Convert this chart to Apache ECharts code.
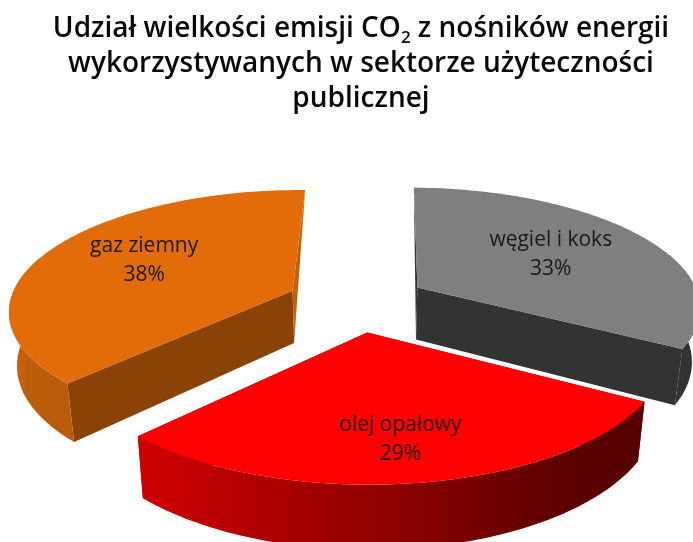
<!DOCTYPE html>
<html>
<head>
<meta charset="utf-8">
<script src="https://cdn.jsdelivr.net/npm/echarts@6/dist/echarts.min.js"></script>
<style>html,body{margin:0;padding:0;background:#fff}#c{width:693px;height:542px}</style>
</head>
<body>
<div id="c"></div>
<script>
var categories = ['węgiel i koks', 'olej opałowy', 'gaz ziemny'];
var shares = [33, 29, 38];

// 3D projection of the pie plane (unit radius)
var CX = 357, CY = 302, AX = 283, BY = 119, PERSP = 0.15;
var ROT = 1 * Math.PI / 180;
var EXPLODE = 0.25, WALL = 53, WALL_SHRINK = 0.977;
var OUTER_VISIBLE_COS = 0.3;
var LABEL_R = [0.6, 0.735, 0.63];
var LABEL_SHIFT = [[-3, 0], [-2, 2], [6, -3]];
var FONT = '"Open Sans", Lato, sans-serif';

function grad(stops) {
  return new echarts.graphic.LinearGradient(0, 0, 1, 0, stops.map(function (s) {
    return { offset: s[0], color: s[1] };
  }));
}
var STYLES = [
  { top: '#7f7f7f', startWall: '#333333', endWall: '#333333', outer: function () { return '#333333'; } },
  { top: '#ff0000', startWall: '#8a0000', endWall: '#8a0000', outer: function () {
      return grad([[0, '#cf0000'], [0.45, '#940000'], [0.85, '#5c0000'], [1, '#560000']]); } },
  { top: '#e26b0a', startWall: '#8a4307', endWall: '#c2630c', outer: function () {
      return grad([[0, '#cc680c'], [0.3, '#bd5e0a'], [1, '#b85b09']]); } }
];

var total = shares.reduce(function (a, b) { return a + b; }, 0);

function project(X, Y, bottom) {
  var w = 1 + PERSP * Y;
  var k = bottom ? WALL_SHRINK : 1;
  return [CX + k * AX * X / w, CY - BY * Y / w + (bottom ? WALL / w : 0)];
}

function edgeWall(rimTop, rimBottom, apexT, apexB, isFar, fill) {
  // An edge running away from the viewer only shows as a sliver ending at its far corner.
  var pts = isFar ? [rimTop, apexT, apexB] : [rimTop, apexT, apexB, rimBottom];
  return { type: 'polygon', shape: { points: pts }, style: { fill: fill } };
}

function renderItem(params, api) {
  var i = params.dataIndex;
  var before = 0;
  for (var n = 0; n < i; n++) before += shares[n];
  var a0 = ROT + before / total * 2 * Math.PI;
  var a1 = ROT + (before + api.value(0)) / total * 2 * Math.PI;
  var mid = (a0 + a1) / 2;
  var ox = EXPLODE * Math.sin(mid), oy = EXPLODE * Math.cos(mid);
  var st = STYLES[i];

  var steps = 96, topArc = [], outerTop = [], outerBot = [];
  for (var s = 0; s <= steps; s++) {
    var a = a0 + (a1 - a0) * s / steps;
    var X = ox + Math.sin(a), Y = oy + Math.cos(a);
    var t = project(X, Y, false);
    topArc.push(t);
    if (Math.cos(a) < OUTER_VISIBLE_COS) {
      outerTop.push(t);
      outerBot.push(project(X, Y, true));
    }
  }
  var apexT = project(ox, oy, false), apexB = project(ox, oy, true);
  var rim0B = project(ox + Math.sin(a0), oy + Math.cos(a0), true);
  var rim1B = project(ox + Math.sin(a1), oy + Math.cos(a1), true);

  var children = [
    edgeWall(topArc[0], rim0B, apexT, apexB, Math.cos(a0) > 0.5, st.startWall),
    edgeWall(topArc[steps], rim1B, apexT, apexB, Math.cos(a1) > 0.5, st.endWall),
    { type: 'polygon', shape: { points: outerTop.concat(outerBot.slice().reverse()) }, style: { fill: st.outer() } },
    { type: 'polygon', shape: { points: [apexT].concat(topArc) }, style: { fill: st.top } }
  ];
  var lp = project(ox + LABEL_R[i] * Math.sin(mid), oy + LABEL_R[i] * Math.cos(mid), false);
  children.push({
    type: 'text',
    x: lp[0] + LABEL_SHIFT[i][0], y: lp[1] + LABEL_SHIFT[i][1],
    style: {
      text: categories[i] + '\n' + Math.round(api.value(0) / total * 100) + '%',
      fill: '#1a1a1a', font: '21px ' + FONT, lineHeight: 29,
      align: 'center', verticalAlign: 'middle'
    }
  });
  return { type: 'group', children: children };
}

var chart = echarts.init(document.getElementById('c'), null, { renderer: 'canvas' });
chart.setOption({
  backgroundColor: '#ffffff',
  animation: false,
  title: {
    left: 356, top: 7, textAlign: 'center',
    text: '{t|Udział wielkości emisji CO}{s|2}{t| z nośników energii}\n{t|wykorzystywanych w sektorze użyteczności}\n{t|publicznej}',
    textStyle: {
      rich: {
        t: { fontFamily: FONT, fontSize: 28, fontWeight: 600, color: '#0a0a0a', lineHeight: 35 },
        s: { fontFamily: FONT, fontSize: 17, fontWeight: 600, color: '#0a0a0a', lineHeight: 10, verticalAlign: 'bottom' }
      }
    }
  },
  series: [{
    type: 'custom',
    coordinateSystem: 'none',
    renderItem: renderItem,
    clip: false,
    data: shares.map(function (v, i) { return { name: categories[i], value: [v] }; })
  }]
});
</script>
</body>
</html>
